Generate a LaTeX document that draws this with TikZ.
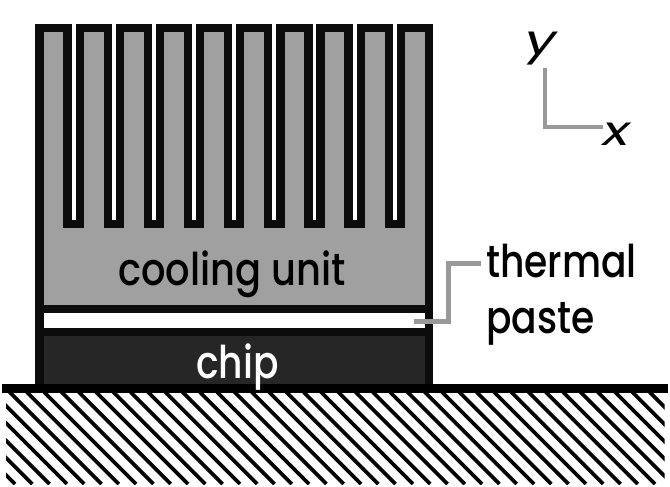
\documentclass[tikz,border=0pt]{standalone}
\usepackage{fontspec}
\setmainfont{Poppins Medium}
\newfontfamily\axisfont{Poppins}
\definecolor{linek}{HTML}{0C0C0C}
\definecolor{finfill}{HTML}{A0A0A0}
\definecolor{chipfill}{HTML}{262626}
\definecolor{leadgray}{HTML}{999999}
\tikzset{
  outline/.style={draw=linek,line width=8.2pt,miter limit=10},
  leader/.style={draw=leadgray,line width=4.4pt},
  lab/.style={font=\fontsize{43}{43}\selectfont,inner sep=0pt,anchor=base west,xscale=0.875,yscale=1.05},
  axlab/.style={font=\fontsize{41}{41}\selectfont\axisfont\itshape,inner sep=0pt,anchor=base west,xscale=1.35},
  hatchline/.style={draw=black,line width=3.7pt}
}
\begin{document}
\begin{tikzpicture}[x=1pt,y=-1pt]
\useasboundingbox (0,0) rectangle (670,487);
\fill[white] (0,0) rectangle (670,487);
% hatch
\begin{scope}
\clip (6,392) rectangle (664.5,484);
\foreach \i in {-6,...,40}
  \draw[hatchline] ({\i*17.3+9.5},392) -- ({\i*17.3+9.5+92},484);
\end{scope}
% chip and paste
\fill[chipfill] (39.5,331.7) rectangle (429,388);
\fill[white] (39.5,309) rectangle (429,331.7);
% cooling body with fins
\def\p{40.15}
\path[fill=finfill]
  (39.5,309) -- (39.5,27.7)
  \foreach \k in {0,...,8} {
    -- ({39.5+\k*\p},27.7) -- ({39.5+\k*\p+28},27.7) -- ({39.5+\k*\p+28},224) -- ({39.5+\k*\p+\p},224) -- ({39.5+\k*\p+\p},27.7)
  } -- (429,27.7) -- (429,309) -- cycle;
\draw[outline]
  (39.5,388.5) -- (39.5,27.7)
  \foreach \k in {0,...,8} {
    -- ({39.5+\k*\p+28},27.7) -- ({39.5+\k*\p+28},224) -- ({39.5+\k*\p+\p},224) -- ({39.5+\k*\p+\p},27.7)
  } -- (429,27.7) -- (429,388.5);
\draw[outline] (39.5,309) -- (429,309);
\draw[outline] (39.5,331.7) -- (429,331.7);
\draw[draw=black,line width=8.4pt] (1.7,388.5) -- (668.3,388.5);
% labels
\node[lab,xscale=1.02] (cool) at (118,285) {cooling unit};
\node[lab,text=white] (chip) at (196,378) {chip};
\node[lab] (therm) at (486,277) {thermal};
\node[lab] (paste) at (486,333) {paste};
\node[axlab] (ylab) at (525,55) {y};
\node[axlab] (xlab) at (603,145) {x};
% leaders
\coordinate (pastept) at (413.5,321.5);
\coordinate (thermalpt) at (480.7,263.3);
\draw[leader,line join=miter] (pastept) -- (448.5,321.5) -- (448.5,263.3) -- (thermalpt);
\coordinate (axtop) at (545,68);
\coordinate (axcorner) at (545,126.7);
\coordinate (axright) at (603,126.7);
\draw[leader] (axtop) -- (axcorner) -- (axright);
\end{tikzpicture}
\end{document}
